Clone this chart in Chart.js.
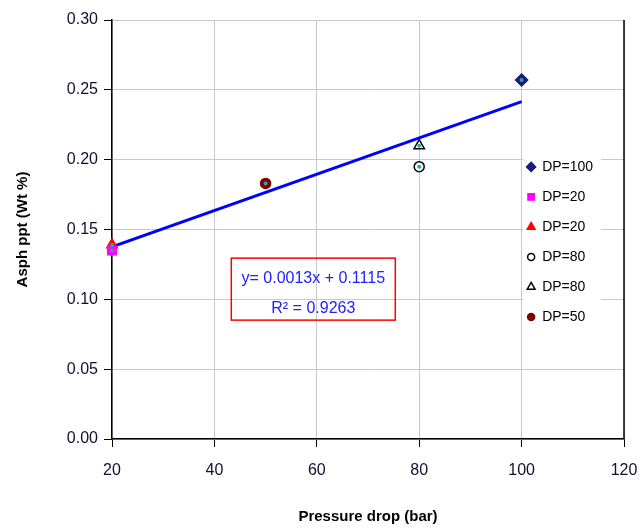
<!DOCTYPE html>
<html>
<head>
<meta charset="utf-8">
<script src="https://cdn.jsdelivr.net/npm/chart.js@4.4.0/dist/chart.umd.min.js"></script>
<style>
  html, body { margin: 0; padding: 0; background: #fff; }
  #wrap { width: 640px; height: 530px; position: relative; }
</style>
</head>
<body>
<div id="wrap"><canvas id="asph-chart" width="640" height="530"></canvas></div>
<script>
// measured points, one per legend entry
var seriesLabels = ['DP=100', 'DP=20', 'DP=20', 'DP=80', 'DP=80', 'DP=50'];
var pressureDrop = [100, 20, 20, 80, 80, 50];
var asphPpt = [0.257, 0.135, 0.139, 0.195, 0.210, 0.183];

// linear trendline end points
var trendX = [20, 100];
var trendY = [0.1375, 0.2415];

var xTicks = [20, 40, 60, 80, 100, 120];
var yTicks = [0, 0.05, 0.10, 0.15, 0.20, 0.25, 0.30];

var equationText = 'y= 0.0013x + 0.1115';
var rSquaredText = 'R\u00b2 = 0.9263';

var markerStyles = [
  { pointStyle: 'rectRot', radius: 6, bg: '#1a1a80', border: '#1a1a80' },
  { pointStyle: 'rect', radius: 6, bg: '#ff00ff', border: '#ff00ff' },
  { pointStyle: 'triangle', radius: 6, bg: '#ff0000', border: '#ff0000' },
  { pointStyle: 'circle', radius: 5, bg: '#ffffff', border: '#000000' },
  { pointStyle: 'triangle', radius: 6, bg: '#ffffff', border: '#000000' },
  { pointStyle: 'circle', radius: 5, bg: '#800000', border: '#800000' }
];

var FONT = '"Liberation Sans", Arial, sans-serif';

var datasets = mapSeries();

function mapSeries() {
  var list = seriesLabels.map(function(label, i) {
    var m = markerStyles[i];
    return {
      type: 'scatter',
      label: label,
      data: [{ x: pressureDrop[i], y: asphPpt[i] }],
      pointStyle: m.pointStyle,
      pointRadius: m.radius,
      backgroundColor: m.bg,
      borderColor: m.border,
      borderWidth: 1.5,
      clip: false,
      order: 2
    };
  });
  // teal centres seen on every marker
  list.push({
    type: 'scatter',
    label: 'centres',
    data: pressureDrop.map(function(x, i) { return { x: x, y: asphPpt[i] }; }),
    pointStyle: 'circle',
    pointRadius: 2,
    backgroundColor: '#2aa6a6',
    borderWidth: 0,
    clip: false,
    order: 1
  });
  list.push({
    type: 'line',
    label: 'trend',
    data: trendX.map(function(x, i) { return { x: x, y: trendY[i] }; }),
    borderColor: '#0000ff',
    borderWidth: 3,
    pointRadius: 0,
    fill: false,
    order: 10
  });
  return list;
}

var overlayPlugin = {
  id: 'overlay',
  afterDatasetsDraw: function(chart) {
    var ctx = chart.ctx;
    var area = chart.chartArea;
    var xs = chart.scales.x, ys = chart.scales.y;
    ctx.save();
    // right frame line
    ctx.strokeStyle = '#000';
    ctx.lineWidth = 1.5;
    ctx.beginPath();
    ctx.moveTo(area.right, area.top);
    ctx.lineTo(area.right, area.bottom);
    ctx.stroke();

    // equation box
    var bx = xs.getPixelForValue(43.3), by = ys.getPixelForValue(0.1295);
    var bw = 164, bh = 62;
    ctx.strokeStyle = '#ff0000';
    ctx.lineWidth = 1.5;
    ctx.strokeRect(bx, by, bw, bh);
    ctx.fillStyle = '#2020ff';
    ctx.font = '16px ' + FONT;
    ctx.textAlign = 'center';
    ctx.textBaseline = 'middle';
    ctx.fillText(equationText, bx + bw / 2, by + 20);
    ctx.fillText(rSquaredText, bx + bw / 2, by + 50);

    // legend inside the plot area
    var lx = xs.getPixelForValue(100.3), ly = ys.getPixelForValue(0.207);
    ctx.fillStyle = '#fff';
    ctx.fillRect(lx, ly, 78, 190);
    ctx.font = '14px ' + FONT;
    ctx.textAlign = 'left';
    seriesLabels.forEach(function(label, i) {
      var m = markerStyles[i];
      var cy = ly + 17 + i * 30;
      ctx.fillStyle = m.bg;
      ctx.strokeStyle = m.border;
      ctx.lineWidth = 1.5;
      Chart.helpers.drawPoint(ctx, { pointStyle: m.pointStyle, radius: m.radius - 1.5, rotation: 0, borderWidth: 1.5 }, lx + 8, cy);
      ctx.fillStyle = '#000';
      ctx.fillText(label, lx + 19, cy);
    });
    ctx.restore();
  }
};

var ctx = document.getElementById('asph-chart');
var chart = new Chart(ctx, {
  data: { datasets: datasets },
  plugins: [overlayPlugin],
  options: {
    responsive: false,
    animation: false,
    layout: { padding: { top: 20, right: 2, left: 10, bottom: 0 } },
    plugins: {
      legend: { display: false },
      tooltip: { enabled: false }
    },
    scales: {
      x: {
        type: 'linear',
        min: xTicks[0],
        max: xTicks[xTicks.length - 1],
        afterBuildTicks: function(axis) {
          axis.ticks = xTicks.map(function(v) { return { value: v }; });
        },
        afterFit: function(axis) {
          axis.height = 91;
          axis.paddingRight = 16;
          axis.paddingLeft = 0;
        },
        border: { color: '#000', width: 1.5 },
        grid: { color: '#c8c8c8', lineWidth: 1, tickLength: 8, tickColor: '#000' },
        ticks: {
          color: '#101030',
          padding: 14,
          font: { family: FONT, size: 16 }
        },
        title: {
          display: true,
          text: 'Pressure drop (bar)',
          color: '#000',
          padding: { top: 22 },
          font: { family: FONT, size: 15, weight: 'bold' }
        }
      },
      y: {
        type: 'linear',
        min: 0,
        max: 0.3,
        afterBuildTicks: function(axis) {
          axis.ticks = yTicks.map(function(v) { return { value: v }; });
        },
        afterFit: function(axis) { axis.width = 102; },
        border: { color: '#000', width: 1.5 },
        grid: { color: '#c8c8c8', lineWidth: 1, tickLength: 8, tickColor: '#000' },
        ticks: {
          color: '#101030',
          padding: 6,
          font: { family: FONT, size: 16 },
          callback: function(v) { return Number(v).toFixed(2); }
        },
        title: {
          display: true,
          text: 'Asph ppt (Wt %)',
          color: '#000',
          padding: { bottom: 6 },
          font: { family: FONT, size: 15, weight: 'bold' }
        }
      }
    }
  }
});
</script>
</body>
</html>
